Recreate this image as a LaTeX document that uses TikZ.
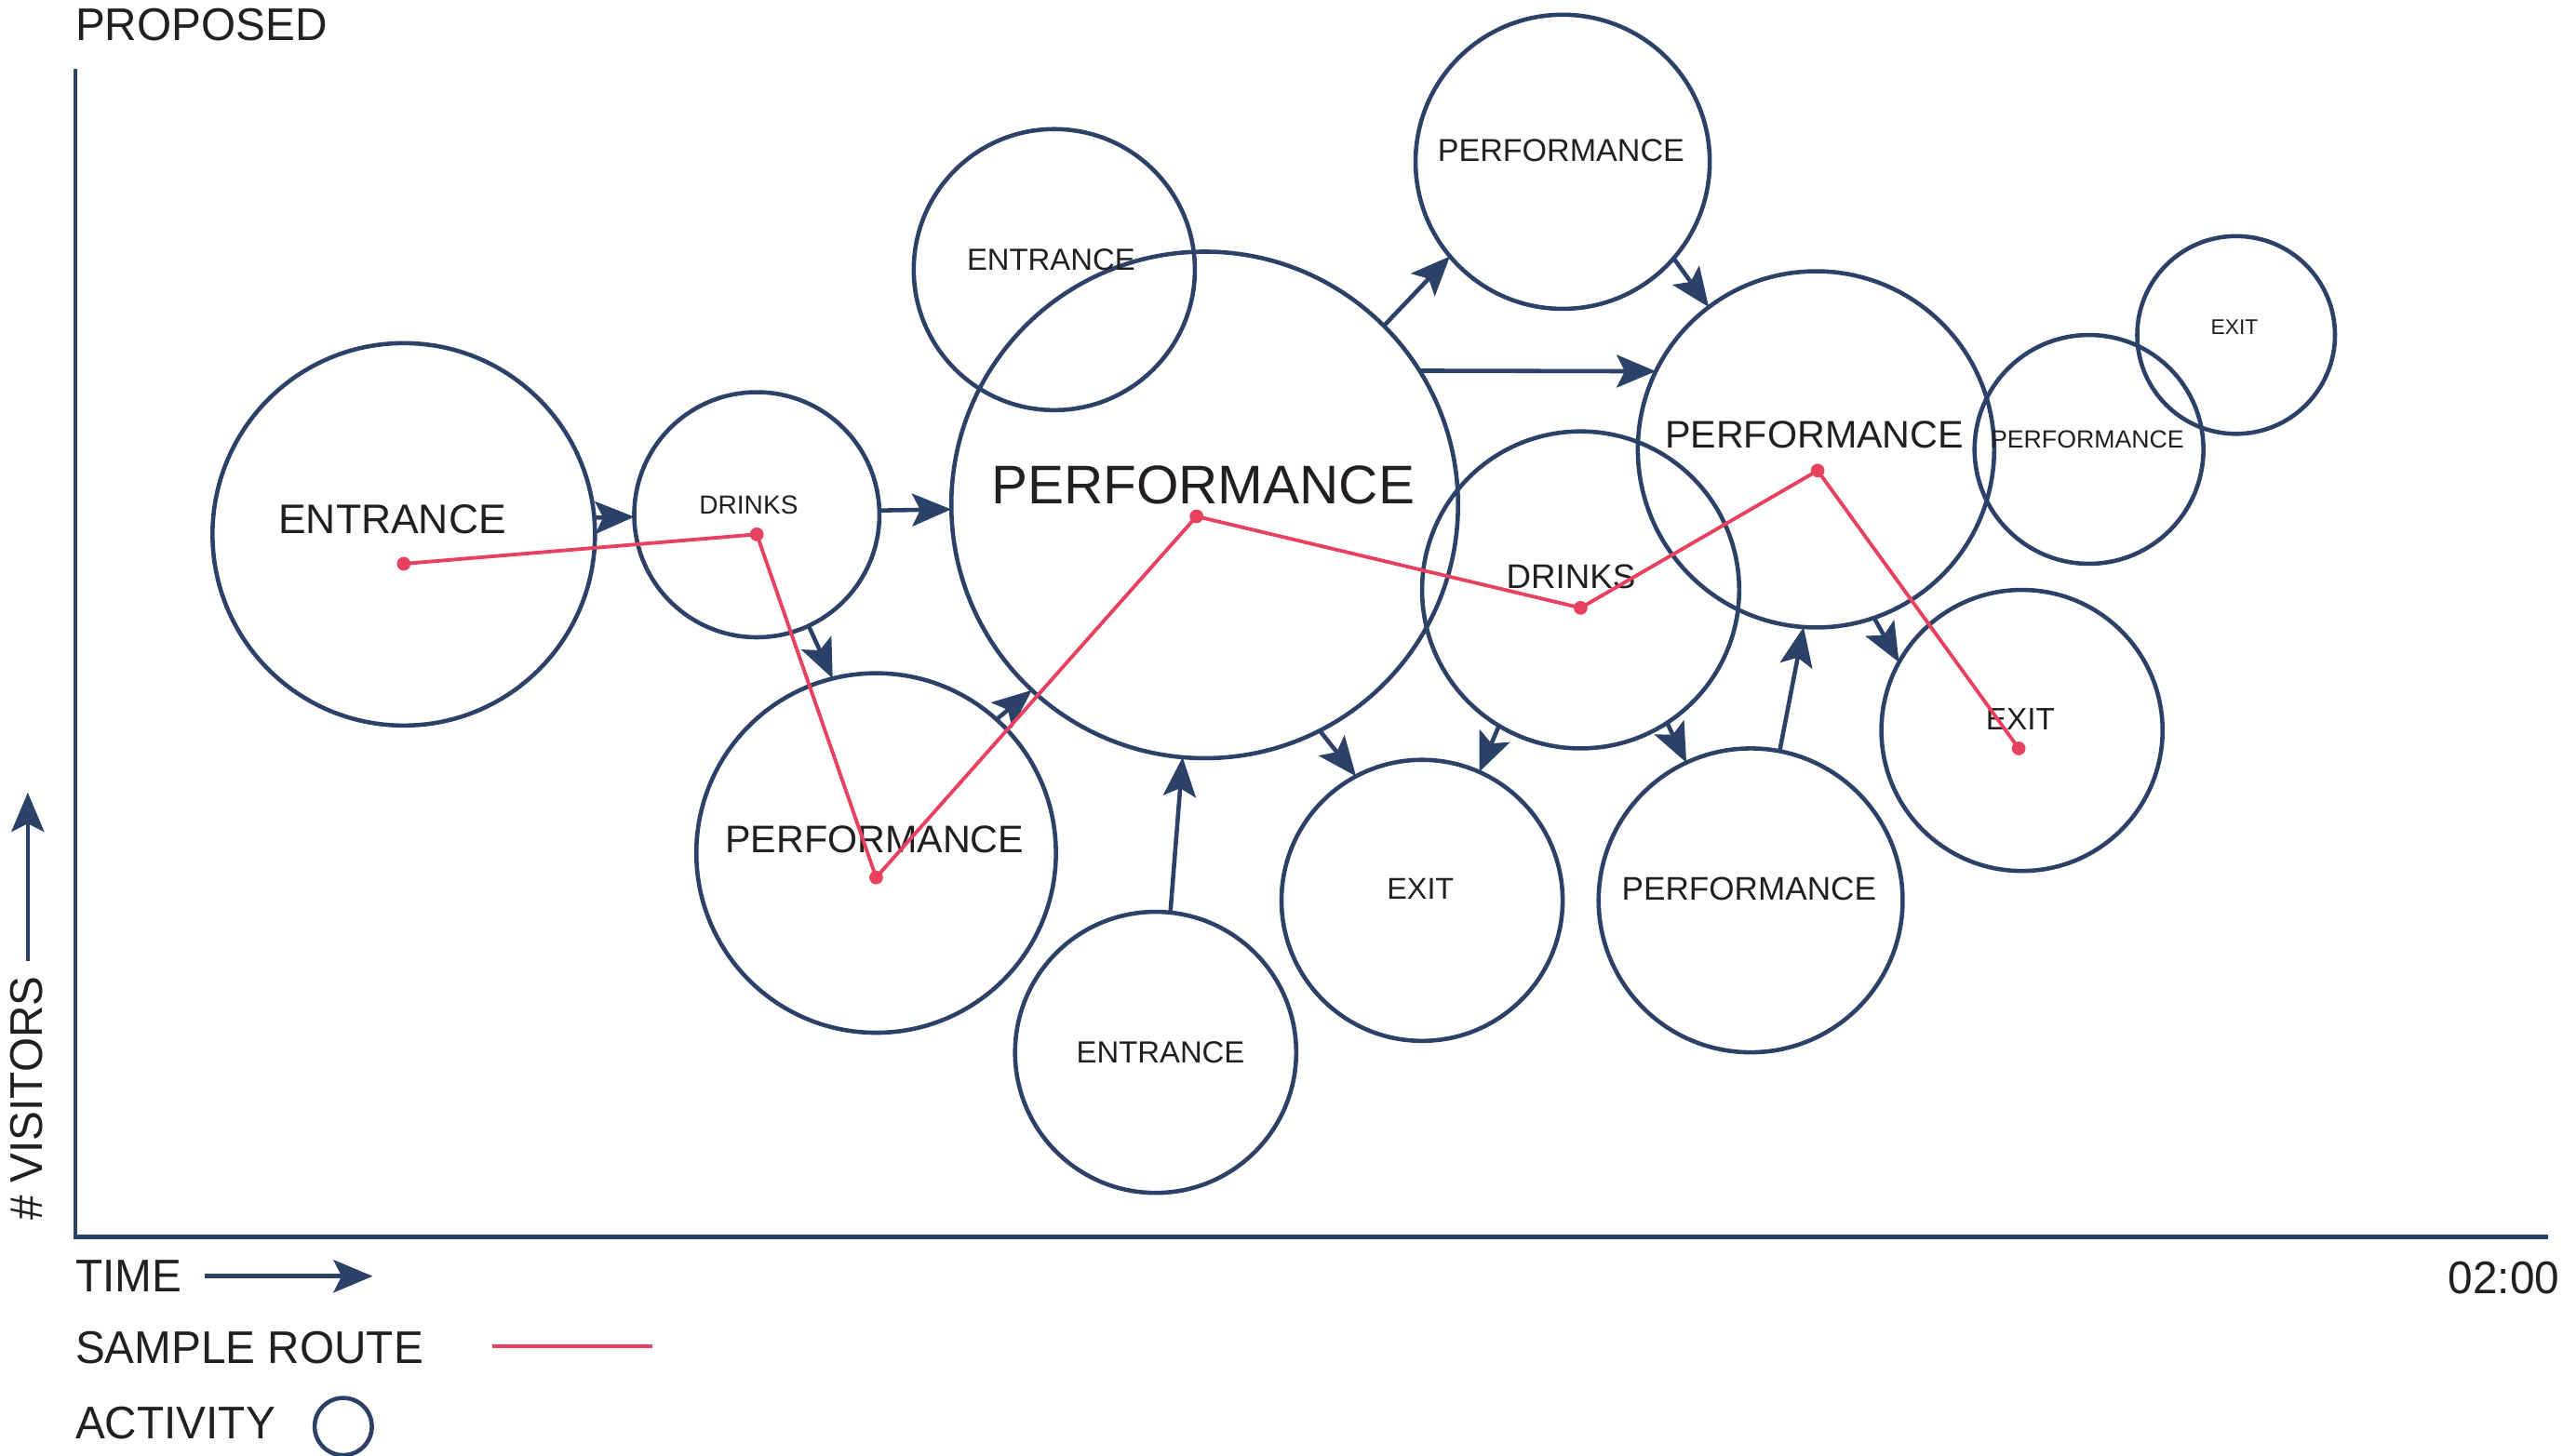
\documentclass[tikz,border=0pt]{standalone}
\usepackage{fontspec}
\setmainfont{Liberation Sans}
\newfontfamily\condfont[FakeStretch=0.97]{Liberation Sans}
\usetikzlibrary{arrows.meta}
\definecolor{navy}{HTML}{2C4168}
\definecolor{routered}{HTML}{E8405F}
\definecolor{ink}{HTML}{231F20}
\newcommand\lblsz[1]{\fontsize{#1}{#1}\selectfont}
\tikzset{
  act/.style={circle, draw=navy, line width=2.6pt, inner sep=0pt, outer sep=0pt},
  flow/.style={draw=navy, line width=2.6pt, -{Stealth[length=24pt,width=20pt,inset=5pt]}},
  route/.style={draw=routered, line width=2.2pt, line join=round},
  lbl/.style={text=ink, inner sep=0pt, anchor=center},
  axlbl/.style={text=ink, inner sep=0pt, font=\condfont\lblsz{28pt}},
  axis/.style={draw=navy, line width=2.6pt}
}
\begin{document}
\begin{tikzpicture}[x=1pt,y=-1pt]
\useasboundingbox (0,0) rectangle (1568,891);

% activity circles
\node[act, minimum size=234pt] (c1) at (247,327) {};
\node[act, minimum size=150pt] (c2) at (463,315) {};
\node[act, minimum size=220pt] (c3) at (536,522) {};
\node[act, minimum size=172pt] (c4) at (645,165) {};
\node[act, minimum size=310pt] (c5) at (737,309) {};
\node[act, minimum size=172pt] (c6) at (707,644) {};
\node[act, minimum size=180pt] (c7) at (956,99) {};
\node[act, minimum size=194pt] (c8) at (967,361) {};
\node[act, minimum size=172pt] (c9) at (870,551) {};
\node[act, minimum size=218pt] (c10) at (1111,275) {};
\node[act, minimum size=140pt] (c11) at (1278,275) {};
\node[act, minimum size=121pt] (c12) at (1368,205) {};
\node[act, minimum size=186pt] (c13) at (1071,551) {};
\node[act, minimum size=172pt] (c14) at (1237,447) {};

% labels
\node[lbl, font=\lblsz{25.3pt}] (t1) at (240,318) {ENTRANCE};
\node[lbl, font=\lblsz{16pt}] (t2) at (458,309) {DRINKS};
\node[lbl, font=\lblsz{23.5pt}] (t3) at (535,514) {PERFORMANCE};
\node[lbl, font=\lblsz{18.7pt}] (t4) at (643,159) {ENTRANCE};
\node[lbl, font=\lblsz{33.3pt}] (t5) at (736,297) {PERFORMANCE};
\node[lbl, font=\lblsz{18.7pt}] (t6) at (710,644) {ENTRANCE};
\node[lbl, font=\lblsz{19.4pt}] (t7) at (955,92) {PERFORMANCE};
\node[lbl, font=\lblsz{20.9pt}] (t8) at (961,353) {DRINKS};
\node[lbl, font=\lblsz{18.4pt}] (t9) at (869,544) {EXIT};
\node[lbl, font=\lblsz{23.5pt}] (t10) at (1110,266) {PERFORMANCE};
\node[lbl, font=\lblsz{15.2pt}] (t11) at (1277,269) {PERFORMANCE};
\node[lbl, font=\lblsz{13pt}] (t12) at (1367,200) {EXIT};
\node[lbl, font=\lblsz{20pt}] (t13) at (1070,544) {PERFORMANCE};
\node[lbl, font=\lblsz{19pt}] (t14) at (1236,440) {EXIT};

% flows
\draw[flow] (c1.5) -- (c2.181);
\draw[flow] (c2.2) -- (c5.181);
\draw[flow] (c2.-65) -- (c3.104);
\draw[flow] (c3.48) -- (c5.227);
\draw[flow] (c6.84) -- (c5.265);
\draw[flow] (c5.45) -- (c7.220);
\draw[flow] (c5.32) -- (c10.154);
\draw[flow] (c7.-41) -- (c10.127);
\draw[flow] (c5.-63) -- (c9.118);
\draw[flow] (c8.239) -- (c9.66);
\draw[flow] (c8.-57) -- (c13.115);
\draw[flow] (c13.79) -- (c10.266);
\draw[flow] (c10.-71) -- (c14.151);

% sample route
\coordinate (r1) at (247,345);
\coordinate (r2) at (463,327);
\coordinate (r3) at (536,537);
\coordinate (r4) at (732,316);
\coordinate (r5) at (967,372);
\coordinate (r6) at (1112,288);
\coordinate (r7) at (1235,458);
\draw[route] (r1) -- (r2) -- (r3) -- (r4) -- (r5) -- (r6) -- (r7);
\foreach \p in {r1,r2,r3,r4,r5,r6,r7} \fill[routered] (\p) circle (4.2pt);

% axes
\coordinate (ytop) at (46,42);
\coordinate (origin) at (46,757);
\coordinate (xend) at (1559,757);
\draw[axis] (ytop) -- (origin) -- (xend);

\node[axlbl, anchor=west] (title) at (46,15) {PROPOSED};
\node[axlbl, anchor=east] (tend) at (1566,782) {02:00};

% vertical axis label
\node[axlbl, rotate=90] (vis) at (16.5,672) {\# VISITORS};
\coordinate (va0) at (17,588);
\coordinate (va1) at (17,485);
\draw[flow] (va0) -- (va1);

% legend
\node[axlbl, anchor=west] (ltime) at (46,781) {TIME};
\coordinate (ta0) at (125,781);
\coordinate (ta1) at (228,781);
\draw[flow] (ta0) -- (ta1);

\node[axlbl, anchor=west] (lroute) at (46,825) {SAMPLE ROUTE};
\coordinate (ra0) at (301,824);
\coordinate (ra1) at (399,824);
\draw[route] (ra0) -- (ra1);

\node[axlbl, anchor=west] (lact) at (46,871) {ACTIVITY};
\node[act, minimum size=35pt] (legc) at (210,873) {};
\end{tikzpicture}
\end{document}
